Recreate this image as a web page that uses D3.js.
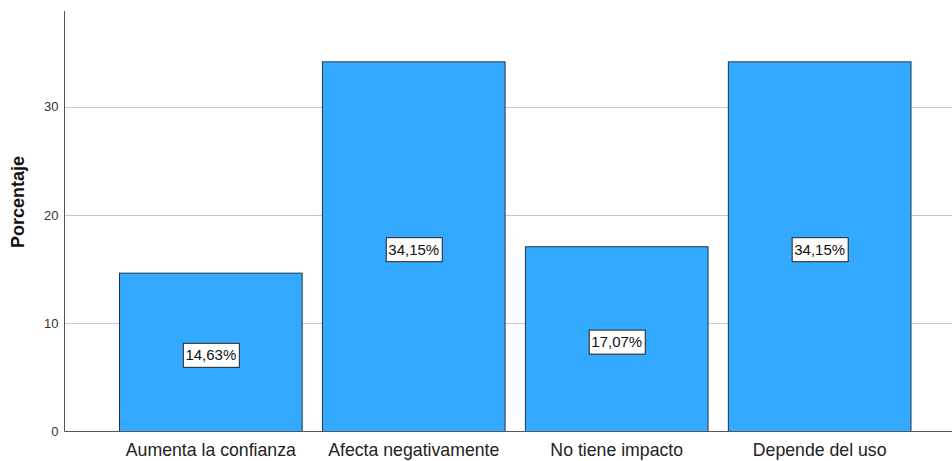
<!DOCTYPE html>
<html>
<head>
<meta charset="utf-8">
<script src="https://cdn.jsdelivr.net/npm/d3@7"></script>
<style>
  html, body { margin: 0; padding: 0; background: #fff; }
  svg { display: block; font-family: "Liberation Sans", Arial, sans-serif; }
</style>
</head>
<body>
<svg id="chart" width="952" height="461"></svg>
<script>
// Categorías y porcentajes
const categories = ["Aumenta la confianza", "Afecta negativamente", "No tiene impacto", "Depende del uso"];
const percentages = [14.63, 34.15, 17.07, 34.15];
const yTicks = [0, 10, 20, 30];
const yLabel = "Porcentaje";

const svg = d3.select("#chart");
const margin = { left: 64.5, top: 11, bottom: 431.5, right: 966 };

const x = d3.scaleBand()
  .domain(categories)
  .range([margin.left, margin.right])
  .paddingInner(0.1)
  .paddingOuter(0.271);

const y = d3.scaleLinear()
  .domain([0, 38.85])
  .range([margin.bottom, margin.top]);

// Líneas de cuadrícula
svg.append("g")
  .selectAll("line")
  .data(yTicks.filter(d => d > 0))
  .join("line")
  .attr("x1", margin.left)
  .attr("x2", margin.right)
  .attr("y1", d => Math.round(y(d)) + 0.5)
  .attr("y2", d => Math.round(y(d)) + 0.5)
  .attr("stroke", "#c8c8c8")
  .attr("stroke-width", 1);

// Barras
svg.append("g")
  .selectAll("rect")
  .data(categories)
  .join("rect")
  .attr("x", d => x(d))
  .attr("y", (d, i) => y(percentages[i]))
  .attr("width", x.bandwidth())
  .attr("height", (d, i) => y(0) - y(percentages[i]))
  .attr("fill", "#33a9ff")
  .attr("stroke", "#1e3552")
  .attr("stroke-width", 1);

// Eje Y
const yAxis = d3.axisLeft(y).tickValues(yTicks).tickSize(0).tickPadding(6).tickFormat(d3.format("d"));
const gy = svg.append("g")
  .attr("transform", `translate(${margin.left},0)`)
  .call(yAxis);
gy.select(".domain").attr("stroke", "#555").attr("d", `M0,${margin.top}V${margin.bottom}`);
gy.selectAll("text").attr("font-size", 13).attr("fill", "#333").attr("font-family", "Liberation Sans, Arial, sans-serif");

// Eje X
const xAxis = d3.axisBottom(x).tickSize(0).tickPadding(12);
const gx = svg.append("g")
  .attr("transform", `translate(0,${margin.bottom})`)
  .call(xAxis);
gx.select(".domain").attr("stroke", "#555").attr("d", `M${margin.left},0H${margin.right}`);
gx.selectAll("text").attr("font-size", 17.7).attr("fill", "#222").attr("font-family", "Liberation Sans, Arial, sans-serif");

// Título del eje Y
svg.append("text")
  .attr("transform", `translate(23.5,202) rotate(-90)`)
  .attr("text-anchor", "middle")
  .attr("font-size", 18)
  .attr("font-weight", "bold")
  .attr("fill", "#111")
  .text(yLabel);

// Etiquetas de valor
const fmt = v => v.toFixed(2).replace(".", ",") + "%";
const labels = svg.append("g")
  .selectAll("g")
  .data(categories)
  .join("g")
  .attr("transform", (d, i) => `translate(${x(d) + x.bandwidth() / 2},${y(percentages[i] / 2) + 2.5})`);

labels.append("text")
  .attr("text-anchor", "middle")
  .attr("dy", "0.358em")
  .attr("font-size", 15)
  .attr("fill", "#111")
  .text((d, i) => fmt(percentages[i]));

labels.each(function() {
  const g = d3.select(this);
  const w = g.select("text").node().getComputedTextLength();
  g.insert("rect", "text")
    .attr("x", Math.round(-w / 2 - 2.5) + 0.5)
    .attr("y", -11.5)
    .attr("width", Math.round(w + 5))
    .attr("height", 24)
    .attr("fill", "#fff")
    .attr("stroke", "#222")
    .attr("stroke-width", 1);
});
</script>
</body>
</html>
